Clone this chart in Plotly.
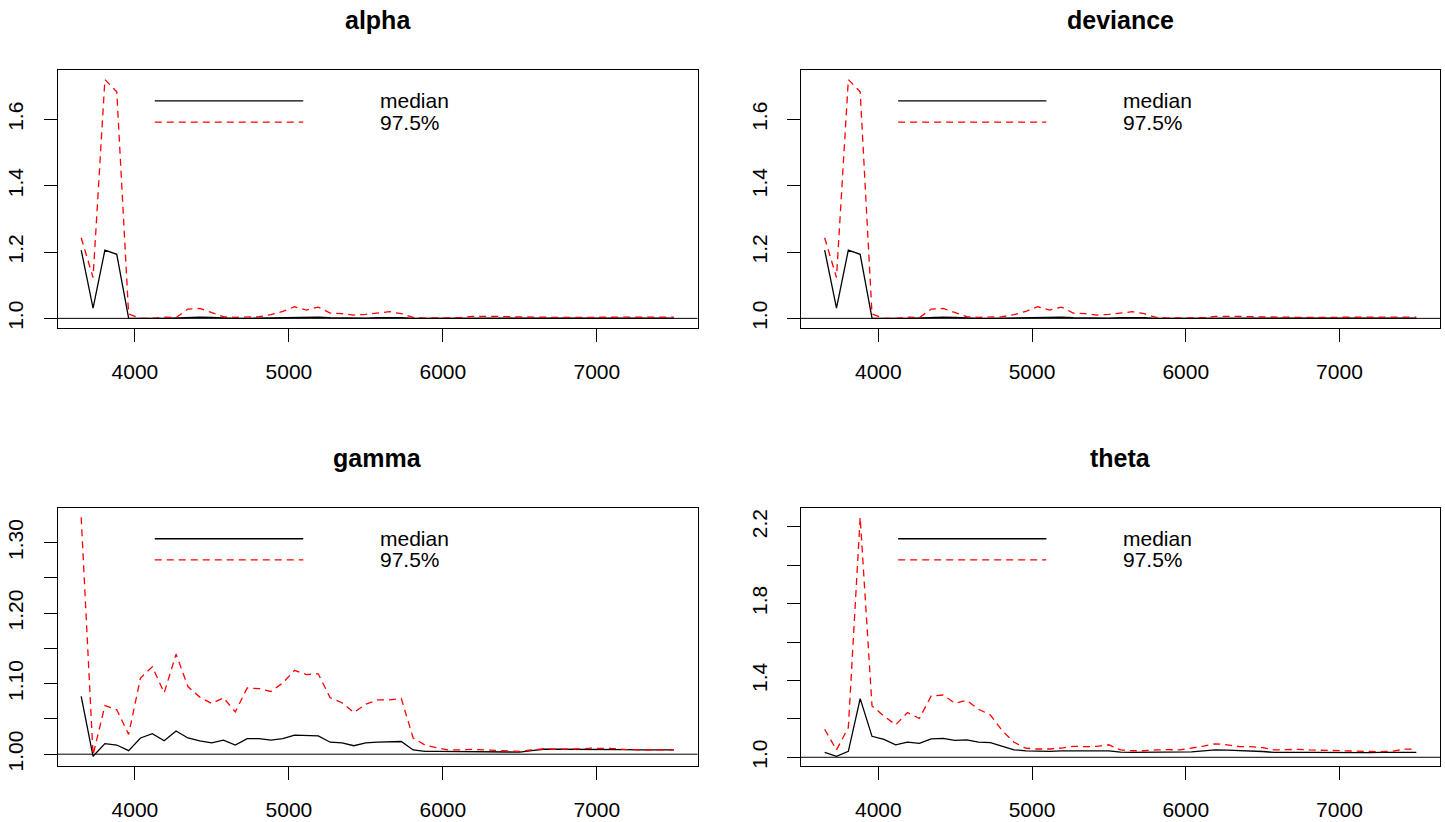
import plotly.graph_objects as go

# Iterations at which the shrink factor was evaluated
iterations = [3651, 3728, 3805, 3882, 3959, 4036, 4113, 4190, 4267, 4344,
              4421, 4498, 4575, 4652, 4729, 4806, 4883, 4960, 5037, 5114,
              5191, 5268, 5345, 5422, 5499, 5576, 5653, 5730, 5807, 5884,
              5961, 6038, 6115, 6192, 6269, 6346, 6423, 6500, 6577, 6654,
              6731, 6808, 6885, 6962, 7039, 7116, 7193, 7270, 7347, 7424,
              7500]

alpha_median = [1.206, 1.031, 1.206, 1.193, 1.001, 0.9995, 1.000, 1.000, 1.001, 1.004,
                1.004, 1.003, 1.001, 1.000, 1.000, 1.001, 1.001, 1.002, 1.004, 1.003,
                1.004, 1.002, 1.001, 1.001, 1.001, 1.002, 1.003, 1.002, 1.000, 1.000,
                1.001, 1.001, 1.001, 1.002, 1.002, 1.002, 1.001, 1.001, 1.001, 1.001,
                1.001, 1.001, 1.001, 1.001, 1.001, 1.001, 1.001, 1.002, 1.002, 1.002,
                1.001]
alpha_q975 = [1.243, 1.123, 1.720, 1.683, 1.013, 1.000, 1.000, 1.004, 1.002, 1.028,
              1.030, 1.017, 1.005, 1.003, 1.003, 1.005, 1.011, 1.021, 1.035, 1.025,
              1.034, 1.016, 1.014, 1.010, 1.012, 1.016, 1.020, 1.014, 1.003, 1.001,
              1.001, 1.001, 1.002, 1.006, 1.007, 1.006, 1.005, 1.004, 1.004, 1.003,
              1.003, 1.003, 1.003, 1.003, 1.003, 1.003, 1.003, 1.004, 1.005, 1.005,
              1.004]

deviance_median = [1.206, 1.031, 1.206, 1.193, 1.001, 0.9995, 1.000, 1.000, 1.001, 1.004,
                   1.004, 1.003, 1.001, 1.000, 1.000, 1.001, 1.001, 1.002, 1.004, 1.003,
                   1.004, 1.002, 1.001, 1.001, 1.001, 1.002, 1.003, 1.002, 1.000, 1.000,
                   1.001, 1.001, 1.001, 1.002, 1.002, 1.002, 1.001, 1.001, 1.001, 1.001,
                   1.001, 1.001, 1.001, 1.001, 1.001, 1.001, 1.001, 1.002, 1.002, 1.002,
                   1.001]
deviance_q975 = [1.243, 1.123, 1.720, 1.683, 1.013, 1.000, 1.000, 1.004, 1.002, 1.028,
                 1.030, 1.017, 1.005, 1.003, 1.003, 1.005, 1.011, 1.021, 1.035, 1.025,
                 1.034, 1.016, 1.014, 1.010, 1.012, 1.016, 1.020, 1.014, 1.003, 1.001,
                 1.001, 1.001, 1.002, 1.006, 1.007, 1.006, 1.005, 1.004, 1.004, 1.003,
                 1.003, 1.003, 1.003, 1.003, 1.003, 1.003, 1.003, 1.004, 1.005, 1.005,
                 1.004]

gamma_median = [1.082, 0.997, 1.015, 1.013, 1.005, 1.023, 1.029, 1.019, 1.033, 1.023,
                1.019, 1.016, 1.020, 1.013, 1.022, 1.022, 1.020, 1.022, 1.027, 1.026,
                1.026, 1.017, 1.016, 1.012, 1.016, 1.017, 1.017, 1.018, 1.006, 1.004,
                1.004, 1.004, 1.004, 1.004, 1.004, 1.004, 1.003, 1.003, 1.005, 1.007,
                1.007, 1.007, 1.0075, 1.0075, 1.0075, 1.0075, 1.0065, 1.006, 1.006, 1.006,
                1.006]
gamma_q975 = [1.336, 0.999, 1.069, 1.063, 1.028, 1.108, 1.124, 1.087, 1.142, 1.096,
              1.081, 1.072, 1.080, 1.060, 1.094, 1.093, 1.089, 1.101, 1.119, 1.113,
              1.114, 1.080, 1.073, 1.059, 1.071, 1.077, 1.077, 1.079, 1.023, 1.013,
              1.009, 1.006, 1.006, 1.007, 1.006, 1.005, 1.004, 1.004, 1.006, 1.0075,
              1.007, 1.007, 1.0075, 1.0085, 1.0085, 1.008, 1.0065, 1.006, 1.006, 1.006,
              1.006]

theta_median = [1.026, 1.005, 1.031, 1.305, 1.109, 1.093, 1.065, 1.079, 1.072, 1.096,
                1.098, 1.088, 1.091, 1.079, 1.076, 1.058, 1.039, 1.033, 1.031, 1.031,
                1.033, 1.034, 1.034, 1.033, 1.033, 1.027, 1.026, 1.026, 1.026, 1.026,
                1.027, 1.028, 1.033, 1.039, 1.037, 1.035, 1.034, 1.030, 1.025, 1.027,
                1.026, 1.026, 1.025, 1.025, 1.025, 1.025, 1.024, 1.025, 1.025, 1.025,
                1.025]
theta_q975 = [1.146, 1.038, 1.155, 2.249, 1.267, 1.215, 1.169, 1.233, 1.202, 1.319,
              1.324, 1.281, 1.296, 1.250, 1.220, 1.138, 1.078, 1.047, 1.043, 1.043,
              1.048, 1.057, 1.055, 1.057, 1.065, 1.038, 1.034, 1.034, 1.038, 1.040,
              1.038, 1.047, 1.058, 1.070, 1.065, 1.056, 1.055, 1.050, 1.038, 1.040,
              1.041, 1.038, 1.036, 1.036, 1.034, 1.033, 1.031, 1.029, 1.032, 1.042,
              1.043]

x_ticks = [4000, 5000, 6000, 7000]

# name, median, 97.5%, y tick positions, y tick labels
panels = [
    ("alpha", alpha_median, alpha_q975,
     [1.0, 1.2, 1.4, 1.6], ["1.0", "1.2", "1.4", "1.6"]),
    ("deviance", deviance_median, deviance_q975,
     [1.0, 1.2, 1.4, 1.6], ["1.0", "1.2", "1.4", "1.6"]),
    ("gamma", gamma_median, gamma_q975,
     [1.00, 1.05, 1.10, 1.15, 1.20, 1.25, 1.30],
     ["1.00", "", "1.10", "", "1.20", "", "1.30"]),
    ("theta", theta_median, theta_q975,
     [1.0, 1.2, 1.4, 1.6, 1.8, 2.0, 2.2],
     ["1.0", "", "1.4", "", "1.8", "", "2.2"]),
]

W, H = 1445, 822
FONT = "Liberation Sans, Arial, Helvetica, sans-serif"

# plot boxes in pixels: (left, right, top, bottom)
boxes = [(57.5, 697.5, 70.5, 330.5), (801, 1440, 70.5, 330.5),
         (57.5, 697.5, 511.5, 771.5), (801, 1440, 511.5, 771.5)]


def padded(lo, hi, frac=0.04):
    d = (hi - lo) * frac
    return [lo - d, hi + d]


fig = go.Figure()
layout = dict(
    width=W, height=H,
    margin=dict(l=0, r=0, t=0, b=0),
    paper_bgcolor="white", plot_bgcolor="white",
    showlegend=False,
    font=dict(family=FONT, size=21, color="black"),
    shapes=[], annotations=[],
)

axis_common = dict(
    showline=True, mirror=True, linecolor="black", linewidth=1,
    ticks="outside", ticklen=13, tickwidth=1, tickcolor="black",
    showgrid=False, zeroline=False,
    tickfont=dict(family=FONT, size=21, color="black"),
)

for k, (name, med, q975, yt, ytl) in enumerate(panels):
    n = "" if k == 0 else str(k + 1)
    xa, ya = "x" + n, "y" + n
    left, right, top, bottom = boxes[k]
    xdom = [left / W, right / W]
    ydom = [1 - bottom / H, 1 - top / H]

    allv = med + q975
    layout["xaxis" + n] = dict(
        axis_common, domain=xdom, anchor=ya,
        range=padded(min(iterations), max(iterations)),
        tickvals=x_ticks, ticktext=[str(v) for v in x_ticks],
        ticklabelstandoff=12,
    )
    layout["yaxis" + n] = dict(
        axis_common, domain=ydom, anchor=xa,
        range=padded(min(allv), max(allv)),
        tickvals=yt, ticktext=ytl, tickangle=-90,
        ticklabelstandoff=12,
    )

    fig.add_trace(go.Scatter(
        x=iterations, y=med, mode="lines", xaxis=xa, yaxis=ya,
        line=dict(color="black", width=1.3), name="median"))
    fig.add_trace(go.Scatter(
        x=iterations, y=q975, mode="lines", xaxis=xa, yaxis=ya,
        line=dict(color="#ff0000", width=1.3, dash="7px,5px"), name="97.5%"))

    # reference line at a shrink factor of 1
    layout["shapes"].append(dict(
        type="line", xref=xa + " domain", yref=ya, x0=0, x1=1, y0=1, y1=1,
        line=dict(color="black", width=1)))

    # legend samples and labels
    for yy, col, dash, label in [(0.880, "black", "solid", "median"),
                                 (0.798, "#ff0000", "7px,5px", "97.5%")]:
        layout["shapes"].append(dict(
            type="line", xref=xa + " domain", yref=ya + " domain",
            x0=0.152, x1=0.384, y0=yy, y1=yy,
            line=dict(color=col, width=1.3, dash=dash)))
        layout["annotations"].append(dict(
            text=label, xref=xa + " domain", yref=ya + " domain",
            x=0.500, y=yy, xanchor="left", yanchor="middle",
            showarrow=False, font=dict(family=FONT, size=21, color="black")))

    # panel title
    layout["annotations"].append(dict(
        text="<b>" + name + "</b>", xref="paper", yref="paper",
        x=(xdom[0] + xdom[1]) / 2, y=1 - (top - 50) / H,
        xanchor="center", yanchor="middle", showarrow=False,
        font=dict(family=FONT, size=25, color="black")))

fig.update_layout(**layout)
fig.write_html("out.html")
